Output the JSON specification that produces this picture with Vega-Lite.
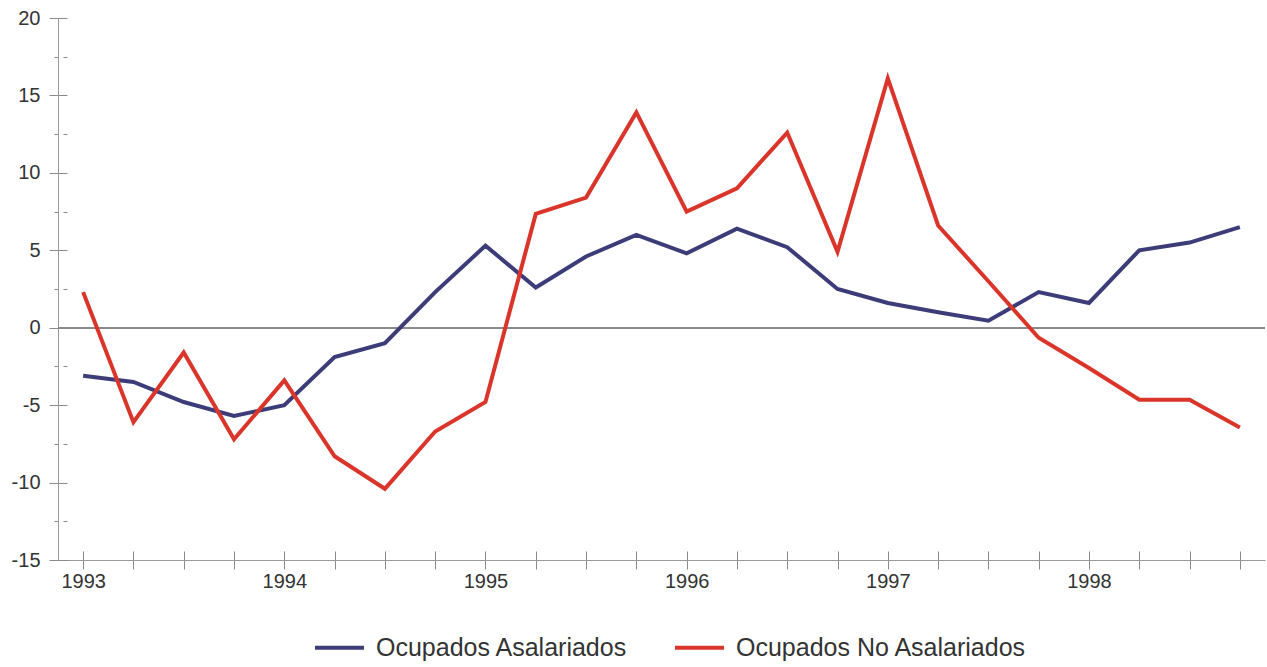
{
  "$schema": "https://vega.github.io/schema/vega-lite/v6.json",
  "autosize": {"type": "none"},
  "padding": {"left": 58, "top": 18, "right": 2, "bottom": 107},
  "width": 1207,
  "height": 542,
  "background": "white",
  "config": {
    "view": {"stroke": null},
    "font": "Liberation Sans",
    "axis": {"grid": false, "labelFont": "Liberation Sans", "labelColor": "#333333", "tickColor": "#8a8a8a", "domainColor": "#9a9a9a", "title": null}
  },
  "data": {"values": [
    {"t": 1993.00, "serie": "Ocupados Asalariados", "v": -3.1},
    {"t": 1993.25, "serie": "Ocupados Asalariados", "v": -3.5},
    {"t": 1993.50, "serie": "Ocupados Asalariados", "v": -4.8},
    {"t": 1993.75, "serie": "Ocupados Asalariados", "v": -5.7},
    {"t": 1994.00, "serie": "Ocupados Asalariados", "v": -5.0},
    {"t": 1994.25, "serie": "Ocupados Asalariados", "v": -1.9},
    {"t": 1994.50, "serie": "Ocupados Asalariados", "v": -1.0},
    {"t": 1994.75, "serie": "Ocupados Asalariados", "v": 2.3},
    {"t": 1995.00, "serie": "Ocupados Asalariados", "v": 5.3},
    {"t": 1995.25, "serie": "Ocupados Asalariados", "v": 2.6},
    {"t": 1995.50, "serie": "Ocupados Asalariados", "v": 4.6},
    {"t": 1995.75, "serie": "Ocupados Asalariados", "v": 6.0},
    {"t": 1996.00, "serie": "Ocupados Asalariados", "v": 4.8},
    {"t": 1996.25, "serie": "Ocupados Asalariados", "v": 6.4},
    {"t": 1996.50, "serie": "Ocupados Asalariados", "v": 5.2},
    {"t": 1996.75, "serie": "Ocupados Asalariados", "v": 2.5},
    {"t": 1997.00, "serie": "Ocupados Asalariados", "v": 1.6},
    {"t": 1997.25, "serie": "Ocupados Asalariados", "v": 1.0},
    {"t": 1997.50, "serie": "Ocupados Asalariados", "v": 0.45},
    {"t": 1997.75, "serie": "Ocupados Asalariados", "v": 2.3},
    {"t": 1998.00, "serie": "Ocupados Asalariados", "v": 1.6},
    {"t": 1998.25, "serie": "Ocupados Asalariados", "v": 5.0},
    {"t": 1998.50, "serie": "Ocupados Asalariados", "v": 5.5},
    {"t": 1998.75, "serie": "Ocupados Asalariados", "v": 6.5},
    {"t": 1993.00, "serie": "Ocupados No Asalariados", "v": 2.3},
    {"t": 1993.25, "serie": "Ocupados No Asalariados", "v": -6.1},
    {"t": 1993.50, "serie": "Ocupados No Asalariados", "v": -1.6},
    {"t": 1993.75, "serie": "Ocupados No Asalariados", "v": -7.2},
    {"t": 1994.00, "serie": "Ocupados No Asalariados", "v": -3.4},
    {"t": 1994.25, "serie": "Ocupados No Asalariados", "v": -8.3},
    {"t": 1994.50, "serie": "Ocupados No Asalariados", "v": -10.4},
    {"t": 1994.75, "serie": "Ocupados No Asalariados", "v": -6.7},
    {"t": 1995.00, "serie": "Ocupados No Asalariados", "v": -4.8},
    {"t": 1995.25, "serie": "Ocupados No Asalariados", "v": 7.35},
    {"t": 1995.50, "serie": "Ocupados No Asalariados", "v": 8.4},
    {"t": 1995.75, "serie": "Ocupados No Asalariados", "v": 13.9},
    {"t": 1996.00, "serie": "Ocupados No Asalariados", "v": 7.5},
    {"t": 1996.25, "serie": "Ocupados No Asalariados", "v": 9.0},
    {"t": 1996.50, "serie": "Ocupados No Asalariados", "v": 12.6},
    {"t": 1996.75, "serie": "Ocupados No Asalariados", "v": 4.9},
    {"t": 1997.00, "serie": "Ocupados No Asalariados", "v": 16.1},
    {"t": 1997.25, "serie": "Ocupados No Asalariados", "v": 6.6},
    {"t": 1997.50, "serie": "Ocupados No Asalariados", "v": 3.0},
    {"t": 1997.75, "serie": "Ocupados No Asalariados", "v": -0.65},
    {"t": 1998.00, "serie": "Ocupados No Asalariados", "v": -2.6},
    {"t": 1998.25, "serie": "Ocupados No Asalariados", "v": -4.65},
    {"t": 1998.50, "serie": "Ocupados No Asalariados", "v": -4.65},
    {"t": 1998.75, "serie": "Ocupados No Asalariados", "v": -6.45}
  ]},
  "resolve": {"axis": {"x": "independent", "y": "independent"}},
  "layer": [
    {
      "mark": {"type": "rule", "color": "#8c8c8c", "strokeWidth": 1},
      "encoding": {
        "y": {"datum": 0, "type": "quantitative",
          "scale": {"domain": [-15, 20], "nice": false, "zero": false},
          "axis": {"orient": "left", "offset": -9, "values": [-15, -12.5, -10, -7.5, -5, -2.5, 0, 2.5, 5, 7.5, 10, 12.5, 15, 17.5, 20],
            "tickSize": {"expr": "datum.value % 5 === 0 ? 9 : 4"}, "labels": false, "domain": false, "title": null}},
        "x": {"datum": 1992.875, "type": "quantitative",
          "scale": {"domain": [1992.875, 1998.875], "nice": false, "zero": false},
          "axis": {"orient": "bottom", "offset": -9, "values": [1993, 1993.25, 1993.5, 1993.75, 1994, 1994.25, 1994.5, 1994.75, 1995, 1995.25, 1995.5, 1995.75, 1996, 1996.25, 1996.5, 1996.75, 1997, 1997.25, 1997.5, 1997.75, 1998, 1998.25, 1998.5, 1998.75],
            "tickSize": 9, "labels": false, "domain": false, "title": null}},
        "x2": {"datum": 1998.875}
      }
    },
    {
      "mark": {"type": "line", "strokeWidth": 4, "strokeJoin": "miter", "strokeCap": "butt"},
      "encoding": {
        "x": {"field": "t", "type": "quantitative",
          "axis": {"orient": "bottom", "values": [1993, 1993.25, 1993.5, 1993.75, 1994, 1994.25, 1994.5, 1994.75, 1995, 1995.25, 1995.5, 1995.75, 1996, 1996.25, 1996.5, 1996.75, 1997, 1997.25, 1997.5, 1997.75, 1998, 1998.25, 1998.5, 1998.75],
            "labelExpr": "datum.value % 1 === 0 ? datum.value : ''", "tickSize": 9, "labelFontSize": 20, "labelPadding": 2, "labelFlush": false, "labelOverlap": false, "title": null}},
        "y": {"field": "v", "type": "quantitative",
          "axis": {"orient": "left", "values": [-15, -12.5, -10, -7.5, -5, -2.5, 0, 2.5, 5, 7.5, 10, 12.5, 15, 17.5, 20],
            "labelExpr": "datum.value % 5 === 0 ? datum.value : ''", "tickSize": {"expr": "datum.value % 5 === 0 ? 9 : 4"}, "labelFontSize": 20, "labelPadding": 9, "labelOverlap": false, "title": null}},
        "color": {"field": "serie", "type": "nominal",
          "scale": {"domain": ["Ocupados Asalariados", "Ocupados No Asalariados"], "range": ["#3c3d78", "#d9352a"]},
          "legend": {"orient": "none", "direction": "horizontal", "legendX": 255, "legendY": 603, "title": null,
            "symbolType": "stroke", "symbolSize": 2400, "symbolStrokeWidth": 4, "labelFontSize": 25, "labelColor": "#333333",
            "labelOffset": 10, "columnPadding": 39, "labelLimit": 400}}
      }
    }
  ]
}
